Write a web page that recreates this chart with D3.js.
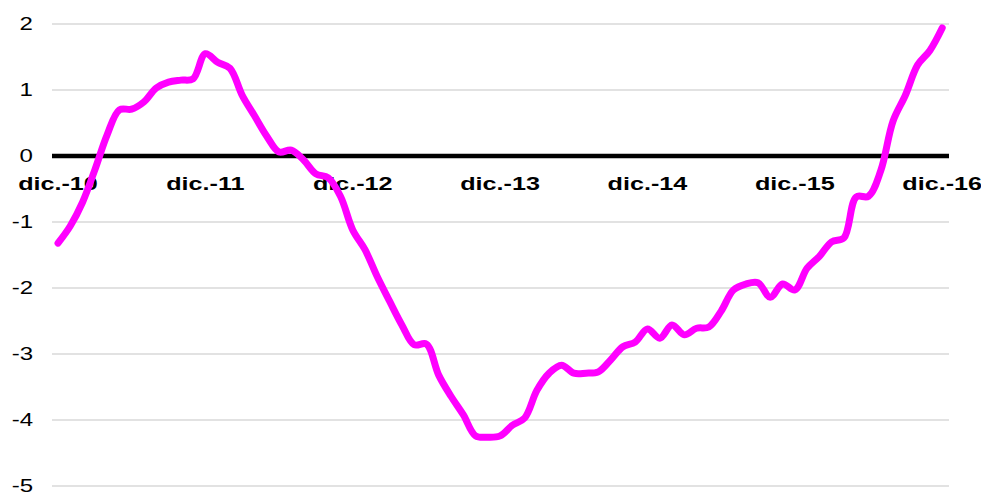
<!DOCTYPE html>
<html>
<head>
<meta charset="utf-8">
<script src="https://cdn.jsdelivr.net/npm/d3@7/dist/d3.min.js"></script>
<style>
  html, body { margin: 0; padding: 0; background: #ffffff; }
  svg { display: block; }
</style>
</head>
<body>
<svg id="chart" width="981" height="493"></svg>
<script>
const months = [
  "dic.-10",
  "ene.-11","feb.-11","mar.-11","abr.-11","may.-11","jun.-11","jul.-11","ago.-11","sep.-11","oct.-11","nov.-11","dic.-11",
  "ene.-12","feb.-12","mar.-12","abr.-12","may.-12","jun.-12","jul.-12","ago.-12","sep.-12","oct.-12","nov.-12","dic.-12",
  "ene.-13","feb.-13","mar.-13","abr.-13","may.-13","jun.-13","jul.-13","ago.-13","sep.-13","oct.-13","nov.-13","dic.-13",
  "ene.-14","feb.-14","mar.-14","abr.-14","may.-14","jun.-14","jul.-14","ago.-14","sep.-14","oct.-14","nov.-14","dic.-14",
  "ene.-15","feb.-15","mar.-15","abr.-15","may.-15","jun.-15","jul.-15","ago.-15","sep.-15","oct.-15","nov.-15","dic.-15",
  "ene.-16","feb.-16","mar.-16","abr.-16","may.-16","jun.-16","jul.-16","ago.-16","sep.-16","oct.-16","nov.-16","dic.-16"
];
const values = [
  -1.32,
  -1.06, -0.70, -0.21, 0.32, 0.70, 0.71, 0.82, 1.03, 1.12, 1.15, 1.17, 1.55,
  1.42, 1.33, 0.92, 0.61, 0.30, 0.06, 0.09, -0.06, -0.27, -0.33, -0.61, -1.12,
  -1.42, -1.83, -2.20, -2.56, -2.86, -2.85, -3.32, -3.64, -3.92, -4.24, -4.26, -4.24,
  -4.08, -3.97, -3.55, -3.29, -3.17, -3.29, -3.29, -3.27, -3.09, -2.89, -2.82, -2.62,
  -2.76, -2.56, -2.71, -2.61, -2.59, -2.35, -2.03, -1.94, -1.92, -2.14, -1.94, -2.03,
  -1.70, -1.52, -1.30, -1.24, -0.62, -0.61, -0.22, 0.53, 0.92, 1.38, 1.60, 1.94
];
const xTickLabels = ["dic.-10","dic.-11","dic.-12","dic.-13","dic.-14","dic.-15","dic.-16"];
const yTicks = [-5, -4, -3, -2, -1, 0, 1, 2];

const svg = d3.select("#chart");
const plotLeft = 52, plotRight = 949;

const x = d3.scalePoint().domain(months).range([58, 942.2]);
const y = d3.scaleLinear().domain([-5, 2]).range([486, 24]);

// gridlines
svg.append("g")
  .selectAll("line")
  .data(yTicks.filter(d => d !== 0))
  .join("line")
  .attr("x1", plotLeft).attr("x2", plotRight)
  .attr("y1", d => y(d)).attr("y2", d => y(d))
  .attr("stroke", "#d9d9d9").attr("stroke-width", 1.5);

// y tick labels
const sx = 1.3;
svg.append("g")
  .selectAll("text")
  .data(yTicks)
  .join("text")
  .attr("transform", d => `translate(33,${y(d)}) scale(${sx},1)`)
  .attr("text-anchor", "end")
  .attr("dy", "0.34em")
  .attr("font-family", "Liberation Sans, Arial, sans-serif")
  .attr("font-size", 18.5)
  .attr("fill", "#000")
  .text(d => d);

// zero line
svg.append("line")
  .attr("x1", plotLeft).attr("x2", plotRight)
  .attr("y1", y(0)).attr("y2", y(0))
  .attr("stroke", "#000").attr("stroke-width", 4.5);

// x tick labels
svg.append("g")
  .selectAll("text")
  .data(xTickLabels)
  .join("text")
  .attr("transform", d => `translate(${x(d)},${y(0) + 34}) scale(1.36,1)`)
  .attr("text-anchor", "middle")
  .attr("font-family", "Liberation Sans, Arial, sans-serif")
  .attr("font-weight", "bold")
  .attr("font-size", 18.5)
  .attr("fill", "#000")
  .text(d => d);

// line
const line = d3.line()
  .x((d, i) => x(months[i]))
  .y(d => y(d))
  .curve(d3.curveCatmullRom.alpha(0.5));

svg.append("path")
  .datum(values)
  .attr("d", line)
  .attr("fill", "none")
  .attr("stroke", "#ff00ff")
  .attr("stroke-width", 7)
  .attr("stroke-linejoin", "round")
  .attr("stroke-linecap", "round");
</script>
</body>
</html>
